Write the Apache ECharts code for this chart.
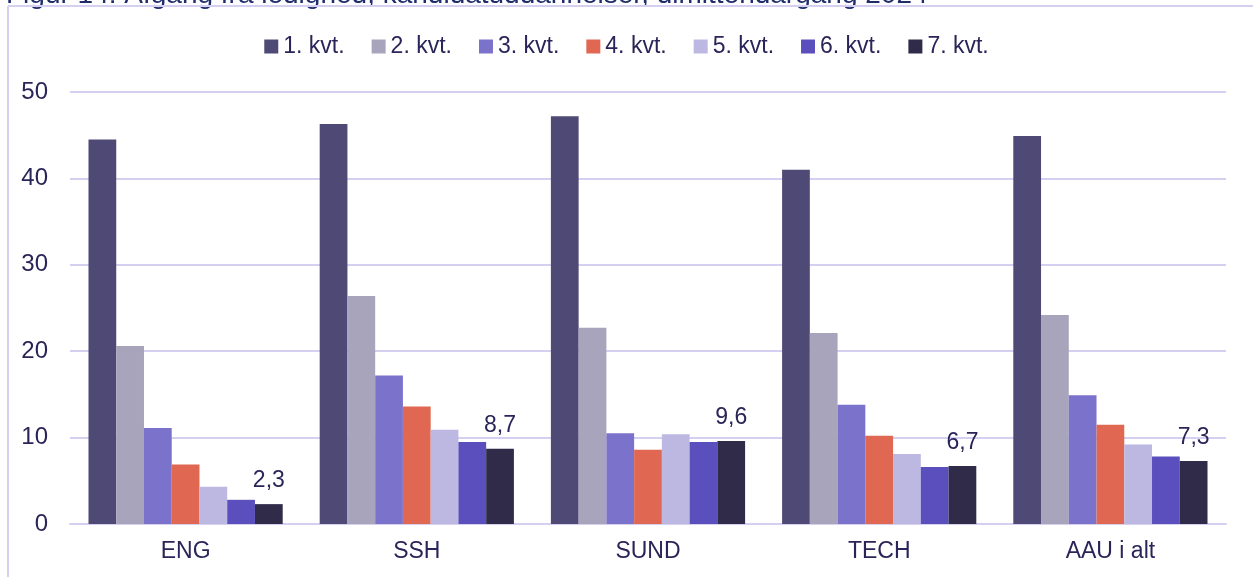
<!DOCTYPE html>
<html>
<head>
<meta charset="utf-8">
<script src="https://cdn.jsdelivr.net/npm/echarts@6/dist/echarts.min.js"></script>
<style>
  html, body { margin: 0; padding: 0; background: #fff; }
  #chart { width: 1253px; height: 577px; }
</style>
</head>
<body>
<div id="chart"></div>
<script>
// data
var categories = ["ENG", "SSH", "SUND", "TECH", "AAU i alt"];
var seriesNames = ["1. kvt.", "2. kvt.", "3. kvt.", "4. kvt.", "5. kvt.", "6. kvt.", "7. kvt."];
var kvt1 = [44.5, 46.3, 47.2, 41.0, 44.9];
var kvt2 = [20.6, 26.4, 22.7, 22.1, 24.2];
var kvt3 = [11.1, 17.2, 10.5, 13.8, 14.9];
var kvt4 = [6.9, 13.6, 8.6, 10.2, 11.5];
var kvt5 = [4.3, 10.9, 10.4, 8.1, 9.2];
var kvt6 = [2.8, 9.5, 9.5, 6.6, 7.8];
var kvt7 = [2.3, 8.7, 9.6, 6.7, 7.3];
var yTicks = [0, 10, 20, 30, 40, 50];

var colors = ["#4e4a75", "#a8a4bb", "#7b73cb", "#e06752", "#bcb8e1", "#5a4fbd", "#2f2b48"];
var textColor = "#2a2558";
var lineColor = "#d5d0f1";
var fontFam = "Liberation Sans, Arial, sans-serif";

var allData = [kvt1, kvt2, kvt3, kvt4, kvt5, kvt6, kvt7];

var myChart = echarts.init(document.getElementById("chart"));

var series = seriesNames.map(function (name, i) {
  var s = {
    name: name,
    type: "bar",
    data: allData[i],
    barGap: "0%",
    barCategoryGap: "16%",
    itemStyle: { color: colors[i] }
  };
  // only the last quarter carries value labels
  if (i === seriesNames.length - 1) {
    s.label = {
      show: true,
      position: "top",
      distance: 12,
      color: textColor,
      fontSize: 23,
      fontFamily: fontFam,
      formatter: function (p) {
        return p.value.toFixed(1).replace(".", ",");
      }
    };
  }
  return s;
});

myChart.setOption({
  animation: false,
  textStyle: { fontFamily: fontFam },
  graphic: [
    {
      // title is cut off at the top edge in the source
      type: "text",
      x: 6,
      y: 9,
      style: {
        text: "Figur 14: Afgang fra ledighed, kandidatuddannelser, dimittendårgang 2024",
        font: "28px " + fontFam,
        fill: "#1f2d6b",
        verticalAlign: "bottom"
      }
    },
    {
      type: "line",
      shape: { x1: 8, y1: 6, x2: 1253, y2: 6 },
      style: { stroke: lineColor, lineWidth: 2 }
    },
    {
      type: "line",
      shape: { x1: 8, y1: 6, x2: 8, y2: 577 },
      style: { stroke: lineColor, lineWidth: 2 }
    }
  ],
  legend: {
    top: 30,
    left: "center",
    itemWidth: 14,
    itemHeight: 14,
    itemGap: 27,
    icon: "rect",
    textStyle: { color: textColor, fontSize: 23 },
    data: seriesNames
  },
  grid: { left: 70, right: 27, top: 92, bottom: 53 },
  xAxis: {
    type: "category",
    data: categories,
    axisTick: { show: false },
    axisLine: { lineStyle: { color: lineColor, width: 2 } },
    axisLabel: { color: textColor, fontSize: 23, margin: 16 }
  },
  yAxis: {
    type: "value",
    min: yTicks[0],
    max: yTicks[yTicks.length - 1],
    interval: 10,
    axisLine: { show: false },
    axisTick: { show: false },
    splitLine: { lineStyle: { color: lineColor, width: 2 } },
    axisLabel: { color: textColor, fontSize: 24, margin: 22 }
  },
  series: series
});
</script>
</body>
</html>
